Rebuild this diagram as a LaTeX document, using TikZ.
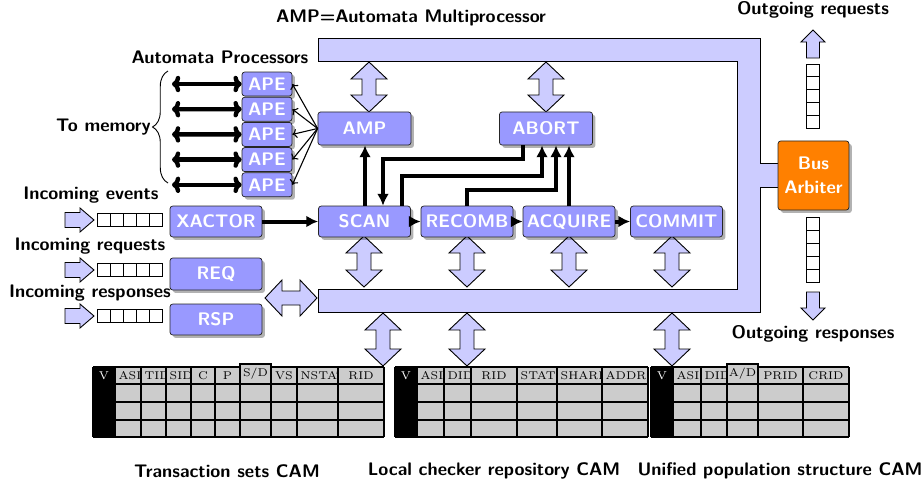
\documentclass[tikz,border=0pt]{standalone}
\usetikzlibrary{arrows.meta,shadows,decorations.pathreplacing}
\definecolor{busfill}{RGB}{204,204,255}
\definecolor{procfill}{RGB}{153,153,255}
\definecolor{arbfill}{RGB}{255,128,0}
\definecolor{camgray}{RGB}{204,204,204}
\newcommand\camfont{\fontsize{6.2}{7}\selectfont}

% vertical two-headed block arrow: centre x, top tip y, bottom tip y
\newcommand\vdarrow[3]{%
  \draw[barrow] (#1,#2) -- (#1+18,#2+17) -- (#1+7,#2+17) -- (#1+7,#3-17)
    -- (#1+18,#3-17) -- (#1,#3) -- (#1-18,#3-17) -- (#1-7,#3-17)
    -- (#1-7,#2+17) -- (#1-18,#2+17) -- cycle;}
% horizontal two-headed block arrow: left tip x, right tip x, centre y
\newcommand\hdarrow[3]{%
  \draw[barrow] (#1,#3) -- (#1+17,#3-18) -- (#1+17,#3-7) -- (#2-17,#3-7)
    -- (#2-17,#3-18) -- (#2,#3) -- (#2-17,#3+18) -- (#2-17,#3+7)
    -- (#1+17,#3+7) -- (#1+17,#3+18) -- cycle;}
% input arrow followed by a five-slot queue, centre y
\newcommand\inqueue[1]{%
  \draw[barrow] (65,#1-7.5) -- (80,#1-7.5) -- (80,#1-12) -- (94,#1)
    -- (80,#1+12) -- (80,#1+7.5) -- (65,#1+7.5) -- cycle;
  \foreach \i in {0,...,4} \draw[slot] (97+13*\i,#1-6.5) rectangle ++(13,13);}
% clipped header cell of a CAM table: left x, right x, text, name
\newcommand\camhead[4]{%
  \begin{scope}
    \clip (#1,367) rectangle (#2,384);
    \pgfmathsetmacro\camtw{(#2-#1)*0.55-4}
    \node[camtext, text width=\camtw pt, align=center] (#4) at ({(#1+#2)/2},375.5) {\mbox{#3}};
  \end{scope}}
% background of a CAM table: left x, right x, V column right x
\newcommand\camgrid[3]{%
  \fill[camgray] (#1,367) rectangle (#2,437);
  \fill[black] (#1,367) rectangle (#3,437);}
% ruling of a CAM table: left x, right x, column borders
\newcommand\camlines[3]{%
  \foreach \yy in {367,384,402,420,437} \draw[cell] (#1,\yy) -- (#2,\yy);
  \foreach \xx in {#3} \draw[cell] (\xx,367) -- (\xx,437);}

\begin{document}
\begin{tikzpicture}[x=0.55pt,y=-0.55pt,
  proc/.style={draw=black!85, fill=procfill, rounded corners=1.5pt, text=white,
    font=\sffamily\bfseries, inner sep=0pt, minimum width=50.6pt, minimum height=17pt,
    drop shadow={shadow xshift=1.6pt, shadow yshift=-1.6pt, fill=black, opacity=0.3}},
  ape/.style={proc, minimum width=27.5pt, minimum height=13.2pt},
  lbl/.style={font=\sffamily\bfseries, inner sep=0pt},
  barrow/.style={draw=black, fill=busfill, line width=0.5pt},
  slot/.style={draw=black, line width=0.5pt},
  link/.style={line width=2.2pt, -{Latex[length=6.5pt,width=6.5pt]}},
  memlink/.style={line width=2.4pt, {To[length=4.5pt,width=9pt]}-{To[length=4.5pt,width=9pt]}},
  apelink/.style={line width=0.6pt, -{To[length=2.5pt,width=5pt]}},
  cell/.style={draw=black, line width=0.8pt},
  camtext/.style={font=\camfont, inner ysep=0pt, inner xsep=2pt}]

\useasboundingbox (0,0) rectangle (922,488);

% shared bus around the checker pipeline
\draw[barrow] (318,38) -- (760,38) -- (760,163) -- (778,163) -- (778,187) -- (760,187)
  -- (760,312) -- (318,312) -- (318,289) -- (737,289) -- (737,61) -- (318,61) -- cycle;

% bus ports
\vdarrow{369}{62}{112}
\vdarrow{546}{62}{112}
\vdarrow{364}{236}{287}
\vdarrow{467}{236}{287}
\vdarrow{569}{236}{287}
\vdarrow{672}{236}{287}
\vdarrow{383}{313}{366}
\vdarrow{467}{313}{366}
\vdarrow{672}{313}{366}
\hdarrow{265}{317}{298}

% input queues
\inqueue{220}
\inqueue{270}
\inqueue{316}

% output queues of the bus arbiter
\draw[barrow] (806.5,58) -- (806.5,42) -- (801,42) -- (813,30) -- (825,42) -- (819.5,42) -- (819.5,58) -- cycle;
\foreach \i in {0,...,4} \draw[slot] (806.5,64+12.8*\i) rectangle ++(13,12.8);
\foreach \i in {0,...,4} \draw[slot] (806.5,217+13*\i) rectangle ++(13,13);
\draw[barrow] (806.5,292) -- (806.5,308) -- (801,308) -- (813,320) -- (825,308) -- (819.5,308) -- (819.5,292) -- cycle;

% processing elements
\node[ape] (ape1) at (267,84) {APE};
\node[ape] (ape2) at (267,109.2) {APE};
\node[ape] (ape3) at (267,134.4) {APE};
\node[ape] (ape4) at (267,159.6) {APE};
\node[ape] (ape5) at (267,184.8) {APE};
\node[proc, minimum width=51.2pt, minimum height=18.2pt] (amp) at (364.5,128.5) {AMP};
\node[proc, minimum width=51.2pt, minimum height=18.2pt] (abort) at (546,128.5) {ABORT};
\node[proc] (xactor) at (216,221.5) {XACTOR};
\node[proc, minimum height=17.6pt] (req) at (216,274) {REQ};
\node[proc] (rsp) at (216,319.5) {RSP};
\node[proc] (scan) at (364.5,221.5) {SCAN};
\node[proc] (recomb) at (467,221.5) {RECOMB};
\node[proc] (acquire) at (569,221.5) {ACQUIRE};
\node[proc] (commit) at (676.5,221.5) {COMMIT};
\node[proc, fill=arbfill, minimum width=39pt, minimum height=38pt, align=center] (arb) at (813.5,175.5) {Bus\\[1pt]Arbiter};

% memory ports and AMP fan-out
\foreach \k in {1,...,5} {
  \coordinate (mem\k) at (172,184.8-25.2*5+25.2*\k);
  \draw[memlink] (mem\k) -- (ape\k.west);
  \draw[apelink] (amp.west) -- (ape\k.east);
}

% pipeline connections
\draw[link] (xactor.east) -- (scan.west);
\draw[link] (scan.east) -- (recomb.west);
\draw[link] (recomb.east) -- (acquire.west);
\draw[link] (acquire.east) -- (commit.west);
\draw[link] (scan.north -| 365,0) -- (amp.south -| 365,0);
\draw[link] (abort.south -| 523,0) -- (523,159) -- (383,159) -- (scan.north -| 383,0);
\draw[link] (scan.north -| 402,0) -- (402,176) -- (542,176) -- (abort.south -| 542,0);
\draw[link] (recomb.north -| 467,0) -- (467,190) -- (556,190) -- (abort.south -| 556,0);
\draw[link] (acquire.north -| 569,0) -- (abort.south -| 569,0);

% labels
\node[lbl] (ttl) at (411,18) {AMP=Automata Multiprocessor};
\node[lbl] (tap) at (220,57) {Automata Processors};
\node[lbl, anchor=east] (tmem) at (151,127) {To memory};
\draw[decorate, decoration={brace, amplitude=8.5pt}, line width=0.5pt] (168,183) -- (168,71);
\node[lbl] (tev) at (91,195) {Incoming events};
\node[lbl] (trq) at (90,246) {Incoming requests};
\node[lbl] (trs) at (90,293) {Incoming responses};
\node[lbl] (toq) at (813,10) {Outgoing requests};
\node[lbl] (tos) at (813,334) {Outgoing responses};
\node[lbl] (tc1) at (227,471) {Transaction sets CAM};
\node[lbl] (tc2) at (494,471) {Local checker repository CAM};
\node[lbl] (tc3) at (780,471) {Unified population structure CAM};

% transaction sets CAM
\camgrid{93}{384}{115}
\foreach \l/\r/\t [count=\k] in {115/141/ASID,141/166/TID,166/191/SID,191/215/C,215/240/P,271/297/VS,297/338/NSTATE,338/384/RID}
  {\camhead{\l}{\r}{\t}{ca\k}}
\camlines{93}{384}{93,115,141,166,191,215,240,271,297,338,384}
\node[camtext, text=white] (cav) at (104,375.5) {V};
\draw[cell, fill=camgray] (240,364) rectangle (271,384);
\node[camtext] (casd) at (255.5,373.5) {S/D};

% local checker repository CAM
\camgrid{395}{648}{417}
\foreach \l/\r/\t [count=\k] in {417/444/ASID,444/471/DID,471/517/RID,517/557/STATE,557/602/SHARE,602/648/ADDR}
  {\camhead{\l}{\r}{\t}{cb\k}}
\camlines{395}{648}{395,417,444,471,517,557,602,648}
\node[camtext, text=white] (cbv) at (406,375.5) {V};

% unified population structure CAM
\camgrid{651}{849}{673}
\foreach \l/\r/\t [count=\k] in {673/701/ASID,701/727/DID,758/803/PRID,803/849/CRID}
  {\camhead{\l}{\r}{\t}{cc\k}}
\camlines{651}{849}{651,673,701,727,758,803,849}
\node[camtext, text=white] (ccv) at (662,375.5) {V};
\draw[cell, fill=camgray] (727,364) rectangle (758,384);
\node[camtext] (ccad) at (742.5,373.5) {A/D};

\end{tikzpicture}
\end{document}
